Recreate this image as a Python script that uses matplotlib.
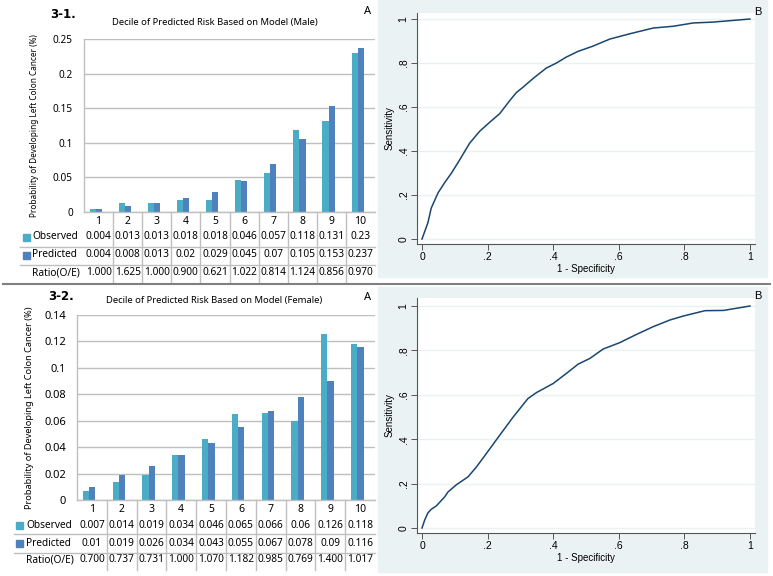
import numpy as np
import matplotlib.pyplot as plt
from matplotlib.patches import Rectangle
from matplotlib.lines import Line2D
from matplotlib.transforms import blended_transform_factory

W, H = 773, 576  # output size in pixels

deciles = [str(i) for i in range(1, 11)]

# 3-1. male
male_observed = [0.004, 0.013, 0.013, 0.018, 0.018, 0.046, 0.057, 0.118, 0.131, 0.23]
male_predicted = [0.004, 0.008, 0.013, 0.02, 0.029, 0.045, 0.07, 0.105, 0.153, 0.237]
male_ratio = [1.000, 1.625, 1.000, 0.900, 0.621, 1.022, 0.814, 1.124, 0.856, 0.970]
male_fpr = [0, 0.018, 0.028, 0.049, 0.069, 0.09, 0.115, 0.145, 0.176, 0.206, 0.237, 0.268,
            0.288, 0.308, 0.339, 0.379, 0.41, 0.44, 0.476, 0.52, 0.573, 0.634, 0.705, 0.766,
            0.827, 0.888, 1.0]
male_tpr = [0, 0.074, 0.14, 0.21, 0.256, 0.30, 0.36, 0.435, 0.49, 0.53, 0.57, 0.63,
            0.666, 0.69, 0.73, 0.777, 0.80, 0.827, 0.853, 0.876, 0.909, 0.933, 0.959, 0.967,
            0.982, 0.986, 1.0]

# 3-2. female
female_observed = [0.007, 0.014, 0.019, 0.034, 0.046, 0.065, 0.066, 0.06, 0.126, 0.118]
female_predicted = [0.01, 0.019, 0.026, 0.034, 0.043, 0.055, 0.067, 0.078, 0.09, 0.116]
female_ratio = [0.700, 0.737, 0.731, 1.000, 1.070, 1.182, 0.985, 0.769, 1.400, 1.017]
female_fpr = [0, 0.008, 0.018, 0.028, 0.044, 0.069, 0.079, 0.105, 0.14, 0.166, 0.196, 0.237,
              0.278, 0.323, 0.349, 0.40, 0.44, 0.476, 0.512, 0.552, 0.603, 0.654, 0.705,
              0.756, 0.797, 0.863, 0.919, 1.0]
female_tpr = [0, 0.035, 0.068, 0.084, 0.10, 0.14, 0.162, 0.195, 0.23, 0.275, 0.335, 0.418,
              0.50, 0.583, 0.61, 0.651, 0.696, 0.738, 0.764, 0.806, 0.835, 0.872, 0.907,
              0.937, 0.955, 0.979, 0.98, 1.0]

roc_ticks = [0, 0.2, 0.4, 0.6, 0.8, 1.0]
roc_tick_labels = ['0', '.2', '.4', '.6', '.8', '1']

OBS_COLOR = '#4bacc6'
PRED_COLOR = '#4f81bd'
GRID = '#bfbfbf'
STATA_BG = '#eaf2f3'
STATA_LINE = '#1a476f'
BAR_FONT = 'Noto Sans'
ROC_FONT = 'Liberation Sans'

fig = plt.figure(figsize=(W / 100, H / 100), dpi=100)


def rect(l, t, r, b):
    # pixel box (left, top, right, bottom) -> figure fraction
    return [l / W, 1 - b / H, (r - l) / W, (b - t) / H]


def fx(x):
    return x / W


def fy(y):
    return 1 - y / H


def bar_panel(box, obs, pred, ratio, yticks, tick_size, title, title_pos, num, num_pos,
              a_pos, ylab_x, ylab_size, rows_y, lines_y, table_bottom, label_x, key_x, line_x0):
    ax = fig.add_axes(rect(*box))
    x = np.arange(len(deciles))
    ax.bar(x - 0.2, obs, width=0.21, color=OBS_COLOR, zorder=2)
    ax.bar(x + 0.01, pred, width=0.21, color=PRED_COLOR, zorder=2)
    ax.set_xlim(-0.5, len(deciles) - 0.5)
    ax.set_ylim(0, yticks[-1])
    ax.set_yticks(yticks)
    ax.set_yticklabels(['{:g}'.format(round(t, 3)) for t in yticks],
                       fontsize=tick_size, family=BAR_FONT)
    ax.set_xticks(x)
    ax.set_xticklabels(deciles, fontsize=7.5, family=BAR_FONT)
    ax.tick_params(axis='y', length=0, pad=8)
    ax.tick_params(axis='x', length=0, pad=3)
    ax.yaxis.grid(True, color=GRID, lw=1)
    ax.set_axisbelow(True)
    for s in ['top', 'right']:
        ax.spines[s].set_visible(False)
    for s in ['left', 'bottom']:
        ax.spines[s].set_color(GRID)
        ax.spines[s].set_linewidth(1)

    # data table under the chart
    trans = blended_transform_factory(ax.transData, fig.transFigure)
    for i in range(len(deciles)):
        ax.text(i, fy(rows_y[0]), '{:g}'.format(obs[i]), transform=trans, ha='center',
                va='center', fontsize=7.3, family=BAR_FONT)
        ax.text(i, fy(rows_y[1]), '{:g}'.format(pred[i]), transform=trans, ha='center',
                va='center', fontsize=7.3, family=BAR_FONT)
        ax.text(i, fy(rows_y[2]), '{:.3f}'.format(ratio[i]), transform=trans, ha='center',
                va='center', fontsize=7.3, family=BAR_FONT)
    for i in range(len(deciles) - 1):
        ax.add_artist(Line2D([i + 0.5, i + 0.5], [fy(box[3]), fy(table_bottom)],
                             transform=trans, color=GRID, lw=1, clip_on=False))
    for y in lines_y:
        fig.add_artist(Line2D([fx(line_x0), fx(box[2])], [fy(y), fy(y)], color=GRID, lw=1))
    for name, y, col in [('Observed', rows_y[0], OBS_COLOR), ('Predicted', rows_y[1], PRED_COLOR)]:
        fig.text(fx(label_x), fy(y), name, ha='left', va='center', fontsize=7.3, family=BAR_FONT)
        fig.add_artist(Rectangle((fx(key_x), fy(y + 3.5)), 7 / W, 7 / H, color=col,
                                 transform=fig.transFigure))
    fig.text(fx(label_x), fy(rows_y[2]), 'Ratio(O/E)', ha='left', va='center',
             fontsize=7.3, family=BAR_FONT)

    fig.text(fx(title_pos[0]), fy(title_pos[1]), title, ha='center', va='center',
             fontsize=6.8, family=BAR_FONT)
    fig.text(fx(num_pos[0]), fy(num_pos[1]), num, ha='left', va='center', fontsize=8.5,
             weight='bold', family='DejaVu Sans')
    fig.text(fx(a_pos[0]), fy(a_pos[1]), 'A', ha='center', va='center', fontsize=8,
             family=BAR_FONT)
    fig.text(fx(ylab_x), fy((box[1] + box[3]) / 2), 'Probability of Developing Left Colon Cancer (%)',
             rotation=90, ha='center', va='center', fontsize=ylab_size, family=BAR_FONT)
    return ax


def roc_panel(bg, box, zero_one_x, zero_one_y, fpr, tpr, b_pos):
    fig.add_artist(Rectangle((fx(bg[0]), fy(bg[3])), (bg[2] - bg[0]) / W, (bg[3] - bg[1]) / H,
                             color=STATA_BG, transform=fig.transFigure, zorder=0))
    ax = fig.add_axes(rect(*box))
    ax.plot(fpr, tpr, color=STATA_LINE, lw=1.1)
    # pixel positions of 0 and 1 on each axis -> limits
    x0, x1 = zero_one_x
    y0, y1 = zero_one_y
    ax.set_xlim(-(x0 - box[0]) / (x1 - x0), 1 + (box[2] - x1) / (x1 - x0))
    ax.set_ylim(-(box[3] - y0) / (y0 - y1), 1 + (y1 - box[1]) / (y0 - y1))
    ax.set_xticks(roc_ticks)
    ax.set_xticklabels(roc_tick_labels, fontsize=7.5, family=ROC_FONT)
    ax.set_yticks(roc_ticks)
    ax.set_yticklabels(roc_tick_labels, fontsize=7.5, family=ROC_FONT, rotation=90, va='center')
    ax.yaxis.grid(True, color=STATA_BG, lw=1)
    ax.set_axisbelow(True)
    for s in ['top', 'right']:
        ax.spines[s].set_visible(False)
    for s in ['left', 'bottom']:
        ax.spines[s].set_color('#555555')
        ax.spines[s].set_linewidth(0.8)
    ax.tick_params(direction='out', length=4, width=0.7, color='#555555', pad=2)
    ax.set_xlabel('1 - Specificity', fontsize=7, family=ROC_FONT, labelpad=1)
    ax.set_ylabel('Sensitivity', fontsize=7, family=ROC_FONT, labelpad=3)
    fig.text(fx(b_pos[0]), fy(b_pos[1]), 'B', ha='center', va='center', fontsize=8,
             family=ROC_FONT)
    return ax


bar_panel((84, 39, 375, 212), male_observed, male_predicted, male_ratio,
          np.linspace(0, 0.25, 6), 7.2, 'Decile of Predicted Risk Based on Model (Male)',
          (215, 22), '3-1.', (50, 14), (368, 12), 35, 5.9,
          (237, 255, 273), (247, 265), 283, 32, 23, 20)
bar_panel((77, 315, 375, 500), female_observed, female_predicted, female_ratio,
          np.linspace(0, 0.14, 8), 8, 'Decile of Predicted Risk Based on Model (Female)',
          (214, 300), '3-2.', (48, 297), (368, 297), 30, 6.6,
          (525, 543, 560), (534, 553), 570, 26, 16, 14)

roc_panel((378, 0, 767, 277), (417, 13, 755, 244), (422, 750), (239, 19),
          male_fpr, male_tpr, (758, 12))
roc_panel((378, 287, 767, 572), (417, 298, 755, 533), (422, 750), (528, 306),
          female_fpr, female_tpr, (758, 296))

# separator between the two figure rows
fig.add_artist(Line2D([fx(3), fx(770)], [fy(284), fy(284)], color='#808080', lw=1.5))

fig.savefig('out.png', dpi=100)
